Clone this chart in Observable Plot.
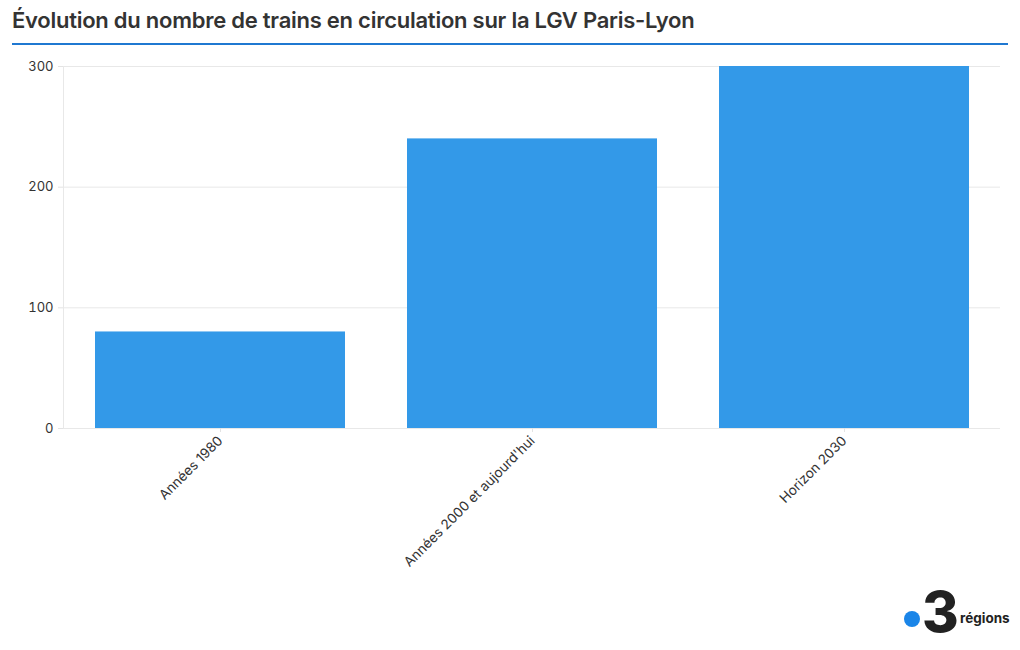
<!DOCTYPE html>
<html><head><meta charset="utf-8">
<script src="https://cdn.jsdelivr.net/npm/d3@7"></script>
<script src="https://cdn.jsdelivr.net/npm/@observablehq/plot@0.6"></script>
<style>
body{margin:0;background:#fff;font-family:Inter,"Open Sans",sans-serif;width:1020px;height:650px;position:relative;overflow:hidden}
#title{position:absolute;left:12px;top:7px;font-size:22px;font-weight:600;color:#333;letter-spacing:-0.25px}
#rule{position:absolute;left:12px;top:43px;width:996px;height:1.5px;background:#1f78d1}
#chart{position:absolute;left:0;top:50px}
#logo{position:absolute;left:903px;top:588px;height:50px;width:117px}
#dot{position:absolute;left:1px;top:23px;width:16px;height:16px;border-radius:50%;background:#1a85e8}
#three{position:absolute;left:19px;top:-10px;font-size:56px;font-weight:800;color:#222;font-family:Inter,sans-serif;letter-spacing:-2px}
#reg{position:absolute;left:57px;top:22px;font-size:13.5px;font-weight:700;color:#222}
</style></head><body>
<div id="title">Évolution du nombre de trains en circulation sur la LGV Paris-Lyon</div>
<div id="rule"></div>
<div id="chart"></div>
<div id="logo"><div id="dot"></div><div id="three">3</div><div id="reg">régions</div></div>
<script>
const categories = ["Années 1980", "Années 2000 et aujourd'hui", "Horizon 2030"];
const values = [80, 240, 300];
const yTicks = [0, 100, 200, 300];
const data = categories.map((c, i) => ({cat: c, val: values[i]}));

const chart = Plot.plot({
  width: 1020,
  height: 540,
  marginLeft: 63,
  marginRight: 20,
  marginTop: 16,
  marginBottom: 162,
  style: {fontFamily: "Inter, 'Open Sans', sans-serif", fontSize: "13px", color: "#333", background: "#fff"},
  x: {domain: categories, paddingInner: 0.2, paddingOuter: 0.1, label: null},
  y: {domain: [0, 300], label: null},
  marks: [
    Plot.gridY(yTicks, {stroke: "#e8e8e8", strokeOpacity: 1}),
    Plot.frame({anchor: "left", stroke: "#e8e8e8", strokeOpacity: 1}),
    Plot.barY(data, {x: "cat", y: "val", fill: "#3399e8"}),
    Plot.axisY({ticks: yTicks, tickSize: 5, stroke: "#e3e3e3", strokeOpacity: 1, tickPadding: 5, fill: "#333", fontSize: 13, label: null}),
    Plot.axisX({tickRotate: -45, tickSize: 4, stroke: "#e3e3e3", strokeOpacity: 1, fill: "#333", fontSize: 13.6, label: null, tickPadding: 6})
  ]
});
document.getElementById("chart").appendChild(chart);
</script>
</body></html>
